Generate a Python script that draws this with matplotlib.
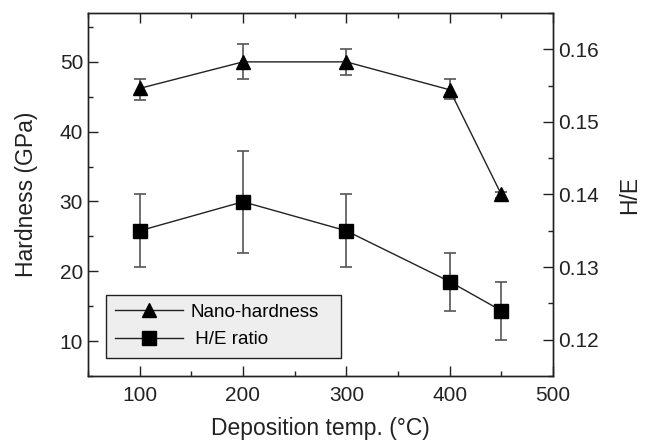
import matplotlib
matplotlib.use("Agg")
import matplotlib.pyplot as plt
from matplotlib.ticker import MultipleLocator

plt.rcParams['font.family'] = ['Liberation Sans', 'DejaVu Sans']

temps = [100, 200, 300, 400, 450]
hardness = [46.2, 50.0, 50.0, 46.0, 31.0]
hardness_err_low = [1.7, 2.5, 1.9, 1.3, 0.5]
hardness_err_high = [1.4, 2.6, 1.9, 1.5, 0.4]
he_ratio = [0.135, 0.139, 0.135, 0.128, 0.124]
he_err_low = [0.005, 0.007, 0.005, 0.004, 0.004]
he_err_high = [0.005, 0.007, 0.005, 0.004, 0.004]

fig = plt.figure(figsize=(6.46, 4.44), dpi=100)
ax = fig.add_axes([0.1362, 0.1532, 0.7198, 0.8175])
ax2 = ax.twinx()

lc = '#222222'
ec = '#555555'
h1 = ax.errorbar(temps, hardness, yerr=[hardness_err_low, hardness_err_high],
                 fmt='^-', color=lc, mfc='black', mec='black', ms=10.5, lw=1.0,
                 ecolor=ec, elinewidth=1.2, capsize=4, capthick=1.2,
                 label='Nano-hardness')
h2 = ax2.errorbar(temps, he_ratio, yerr=[he_err_low, he_err_high],
                  fmt='s-', color=lc, mfc='black', mec='black', ms=9.5, lw=1.0,
                  ecolor=ec, elinewidth=1.2, capsize=4, capthick=1.2,
                  label='H/E ratio')

ax.set_xlim(50, 500)
ax.set_ylim(5, 57)
ax2.set_ylim(0.115, 0.165)

ax.xaxis.set_major_locator(MultipleLocator(100))
ax.xaxis.set_minor_locator(MultipleLocator(50))
ax.yaxis.set_major_locator(MultipleLocator(10))
ax.yaxis.set_minor_locator(MultipleLocator(5))
ax2.yaxis.set_major_locator(MultipleLocator(0.01))
ax2.yaxis.set_minor_locator(MultipleLocator(0.005))
ax2.yaxis.set_major_formatter(plt.FuncFormatter(lambda v, p: f"{v:.2f}"))

ax.tick_params(axis='x', which='both', direction='in', top=True, bottom=True, labelsize=15, colors='#222222')
ax.tick_params(axis='x', which='major', pad=7)
ax.tick_params(axis='y', which='both', direction='in', left=True, right=False, labelsize=15, colors='#222222')
ax2.tick_params(axis='y', which='both', direction='in', right=True, labelsize=15, colors='#222222')
for a in (ax, ax2):
    a.tick_params(which='major', length=7.5, width=1.0)
    a.tick_params(which='minor', length=3.5, width=1.0)
    for s in a.spines.values():
        s.set_color('#222222')
        s.set_linewidth(1.0)

ax.set_xlabel('Deposition temp. (°C)', fontsize=16.5, color='#222222', labelpad=9)
ax.set_ylabel('Hardness (GPa)', fontsize=16.5, color='#222222', labelpad=16)
ax2.set_ylabel('H/E', fontsize=16.5, color='#222222', labelpad=14)

leg = ax.legend([h1[0], h2[0]], ['Nano-hardness', ' H/E ratio'], loc='lower left',
                bbox_to_anchor=(0.039, 0.05, 0.505, 0.18), mode='expand',
                borderaxespad=0, fancybox=False,
                edgecolor='#222222', facecolor='#eeeeee', framealpha=1,
                fontsize=13.5, handlelength=3.6, handletextpad=0.4,
                borderpad=0.5, labelspacing=0.55)
leg.get_frame().set_linewidth(1.0)
leg.set_zorder(5)
ax.set_zorder(ax2.get_zorder() + 1)
ax.patch.set_visible(False)

fig.savefig('out.png', dpi=100)
